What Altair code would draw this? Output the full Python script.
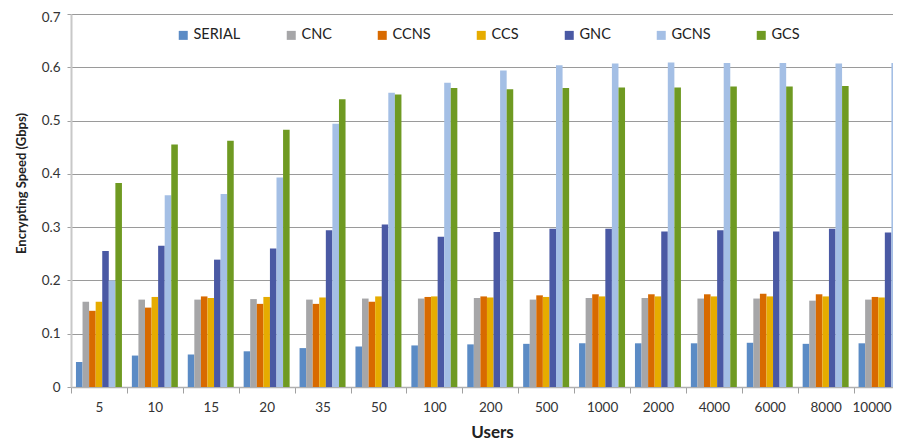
import altair as alt
import pandas as pd

users = ["5", "10", "15", "20", "35", "50", "100", "200", "500", "1000",
         "2000", "4000", "6000", "8000", "10000"]
series = ["SERIAL", "CNC", "CCNS", "CCS", "GNC", "GCNS", "GCS"]
colors = ["#5b8bc5", "#a6a6a8", "#d86a00", "#e6ac00", "#4a59a4", "#a4bfe5", "#6f9a22"]

serial = [0.047, 0.059, 0.061, 0.067, 0.073, 0.076, 0.078, 0.080, 0.081, 0.082, 0.082, 0.082, 0.083, 0.081, 0.082]
cnc = [0.160, 0.164, 0.164, 0.165, 0.164, 0.166, 0.166, 0.167, 0.164, 0.167, 0.167, 0.166, 0.166, 0.162, 0.164]
ccns = [0.143, 0.149, 0.170, 0.156, 0.156, 0.160, 0.169, 0.170, 0.172, 0.174, 0.174, 0.174, 0.175, 0.174, 0.169]
ccs = [0.160, 0.169, 0.167, 0.169, 0.168, 0.170, 0.170, 0.168, 0.169, 0.170, 0.170, 0.170, 0.170, 0.170, 0.168]
gnc = [0.255, 0.265, 0.239, 0.260, 0.294, 0.305, 0.282, 0.291, 0.297, 0.297, 0.292, 0.294, 0.292, 0.297, 0.290]
gcns = [0.200, 0.360, 0.362, 0.393, 0.494, 0.552, 0.571, 0.594, 0.604, 0.607, 0.609, 0.608, 0.608, 0.607, 0.608]
gcs = [0.383, 0.455, 0.462, 0.483, 0.540, 0.549, 0.561, 0.559, 0.561, 0.562, 0.562, 0.564, 0.564, 0.565, 0.564]

values = {"SERIAL": serial, "CNC": cnc, "CCNS": ccns, "CCS": ccs,
          "GNC": gnc, "GCNS": gcns, "GCS": gcs}
rows = []
for s in series:
    for u, v in zip(users, values[s]):
        rows.append({"Users": u, "Series": s, "Speed": v})
df = pd.DataFrame(rows)

FONT = "Lato"

chart = alt.Chart(df).mark_bar().encode(
    x=alt.X("Users:N", sort=users,
            scale=alt.Scale(range=[0, 838.5], paddingInner=0, paddingOuter=0),
            axis=alt.Axis(title="Users", labelAngle=0, tickBand="extent",
                          labelFont=FONT, labelFontSize=13.5, labelColor="#333333",
                          labelOffset={"condition": {"test": "datum.value === '10000'", "value": -10}, "value": 0},
                          labelPadding=7, tickSize=6, tickColor="#a0a0a0",
                          domainColor="#b0b0b0", domainWidth=1.5,
                          titleFont=FONT, titleFontSize=17, titleFontWeight="bold",
                          titleColor="#222222", titleX=421, titleY=50,
                          titleBaseline="alphabetic", titleAlign="center",
                          grid=False)),
    xOffset=alt.XOffset("Series:N", sort=series,
                        scale=alt.Scale(paddingInner=0, paddingOuter=0.755)),
    y=alt.Y("Speed:Q",
            scale=alt.Scale(domain=[0, 0.7], nice=False),
            axis=alt.Axis(title="Encrypting Speed (Gbps)", values=[0, 0.1, 0.2, 0.3, 0.4, 0.5, 0.6, 0.7],
                          format=".1~f", labelFont=FONT, labelFontSize=13.5,
                          labelColor="#333333", labelPadding=7, tickSize=4,
                          labelOffset={"condition": {"test": "datum.value >= 0.69", "value": 3}, "value": 0},
                          tickColor="#a0a0a0", domainColor="#c8c8c8", domainWidth=2,
                          gridColor="#9a9a9a", gridWidth=1.2,
                          titleFont=FONT, titleFontSize=13, titleFontWeight="bold",
                          titleColor="#222222", titleX=-50, titleY=169,
                          titleAngle=270, titleAlign="center", titleBaseline="middle")),
    color=alt.Color("Series:N", sort=series,
                    scale=alt.Scale(domain=series, range=colors),
                    legend=alt.Legend(title=None, orient="none", legendX=105, legendY=14,
                                      direction="horizontal", columns=7,
                                      symbolType="square", symbolSize=81,
                                      symbolStrokeWidth=0, labelFont=FONT,
                                      labelFontSize=14.5, labelColor="#222222",
                                      labelOffset=3, columnPadding=43, padding=0)),
).properties(
    width=822,
    height=373,
    autosize=alt.AutoSizeParams(type="none"),
    padding={"left": 63, "top": 6, "right": 0, "bottom": 55},
).configure_view(strokeWidth=0)

chart.save("out.html", embed_options={"renderer": "svg", "actions": False})
